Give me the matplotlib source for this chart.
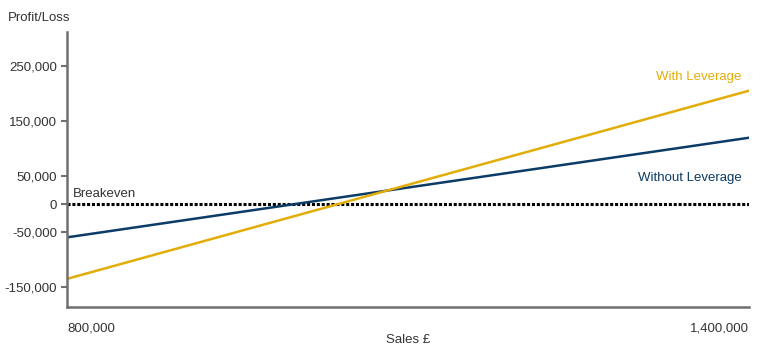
import matplotlib
matplotlib.use("Agg")
import matplotlib.pyplot as plt

# data
sales = [800000, 1400000]
without_leverage = [-60000, 120000]
with_leverage = [-135000, 205000]
breakeven = [0, 0]

y_ticks = [250000, 150000, 50000, 0, -50000, -150000]
x_ticks = [800000, 1400000]

blue = '#0b3b66'
gold = '#e2ad06'
grey = '#707070'
text_col = '#333333'
fs = 9.5

plt.rcParams['font.family'] = ['Liberation Sans', 'DejaVu Sans']

fig = plt.figure(figsize=(7.7, 3.51), dpi=100)
ax = fig.add_axes([0.087, 0.125, 0.886, 0.784])

ax.plot(sales, breakeven, color='black', linewidth=2.2, linestyle=(0, (1, 0.6)))
ax.plot(sales, without_leverage, color=blue, linewidth=1.8)
ax.plot(sales, with_leverage, color=gold, linewidth=1.8)

ax.set_xlim(800000, 1400000)
ax.set_ylim(-186000, 311000)

# axes styling
for side in ['top', 'right']:
    ax.spines[side].set_visible(False)
for side in ['left', 'bottom']:
    ax.spines[side].set_color(grey)
    ax.spines[side].set_linewidth(1.8)

ax.set_yticks(y_ticks)
ax.set_yticklabels([f'{v:,}' for v in y_ticks])
ax.tick_params(axis='y', length=4, width=1.5, color=grey, labelsize=fs,
               labelcolor=text_col, pad=3)

ax.set_xticks(x_ticks)
ax.set_xticklabels([f'{v:,}' for v in x_ticks])
ax.tick_params(axis='x', length=0, labelsize=fs, labelcolor=text_col, pad=11)
labels = ax.get_xticklabels()
labels[0].set_horizontalalignment('left')
labels[1].set_horizontalalignment('right')

ax.set_xlabel('Sales £', fontsize=fs, color=text_col, labelpad=0)

# texts
fig.text(8 / 770, 1 - 18 / 351, 'Profit/Loss', fontsize=fs, color=text_col,
         ha='left', va='center')
ax.text(805000, 7000, 'Breakeven', fontsize=fs, color=text_col,
        ha='left', va='bottom')
ax.text(1393000, 230000, 'With Leverage', fontsize=fs, color=gold,
        ha='right', va='center')
ax.text(1393000, 48000, 'Without Leverage', fontsize=fs, color=blue,
        ha='right', va='center')

fig.savefig('out.png', dpi=100)
